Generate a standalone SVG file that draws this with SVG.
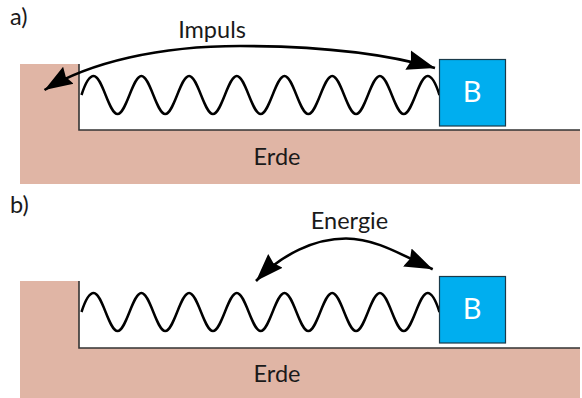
<svg xmlns="http://www.w3.org/2000/svg" xmlns:xlink="http://www.w3.org/1999/xlink" width="582" height="398" viewBox="0 0 582 398">
<style>
text{font-family:Lato,"Open Sans","Liberation Sans",sans-serif;font-size:23.5px;fill:#1a1a1a}
.ground{fill:#e0b5a5}
.edge{fill:none;stroke:#333;stroke-width:1.6}
.box{fill:#00aeef;stroke:#1a3a4a;stroke-width:1.2}
.blabel{fill:#fff;font-size:29px;text-anchor:middle}
.mid{text-anchor:middle}
.wave{fill:none;stroke:#000;stroke-width:2.5}
.arrow{fill:none;stroke:#000;stroke-width:2.6;marker-end:url(#head)}
</style>
<defs>
<marker id="head" markerUnits="userSpaceOnUse" markerWidth="30" markerHeight="24" refX="28" refY="11" orient="auto">
<path d="M0,1 L28,11 L0,21 L3,11 Z" fill="#000"/>
</marker>
<path id="spring" d="M81.5,19 C85,8 89,0 93.7,0 c8.7,0 15.1,38 23.85,38 s15.1,-38 23.85,-38 s15.1,38 23.85,38 s15.1,-38 23.85,-38 s15.1,38 23.85,38 s15.1,-38 23.85,-38 s15.1,38 23.85,38 s15.1,-38 23.85,-38 s15.1,38 23.85,38 s15.1,-38 23.85,-38 s15.1,38 23.85,38 s15.1,-38 23.85,-38 s15.1,38 23.85,38 s15.1,-38 23.85,-38 C432,0 436,8 439.5,19"/>
</defs>
<g id="panel-a">
<text x="10" y="25">a)</text>
<g id="ground-a">
<path class="ground" d="M20,64H79V130H580V184H20Z"/>
<path class="edge" d="M79,64V130H580"/>
<text class="mid" x="277" y="165">Erde</text>
</g>
<g id="spring-a"><use xlink:href="#spring" href="#spring" class="wave" y="76"/></g>
<g id="block-a">
<rect class="box" x="439.5" y="59.5" width="66" height="66.5"/>
<text class="blabel" x="472" y="102">B</text>
</g>
</g>
<g id="panel-b">
<text x="10" y="213">b)</text>
<g id="ground-b">
<path class="ground" d="M20,281H79V348H580V398H20Z"/>
<path class="edge" d="M79,281V348H580"/>
<text class="mid" x="277" y="382">Erde</text>
</g>
<g id="spring-b"><use xlink:href="#spring" href="#spring" class="wave" y="293"/></g>
<g id="block-b">
<rect class="box" x="439.5" y="276.5" width="66" height="66.5"/>
<text class="blabel" x="472" y="319">B</text>
</g>
</g>
<g id="connectors">
<path class="arrow" d="M240,46 C160,46 90,62 44.5,90"/>
<path class="arrow" d="M240,46 C310,46 380,52 435,68"/>
<path class="arrow" d="M346,238.5 C315,238.5 282,254 256,281"/>
<path class="arrow" d="M346,238.5 C375,238.5 400,254 432.7,269.3"/>
</g>
<text class="mid" x="212" y="38">Impuls</text>
<text class="mid" x="349.5" y="229">Energie</text>
</svg>
